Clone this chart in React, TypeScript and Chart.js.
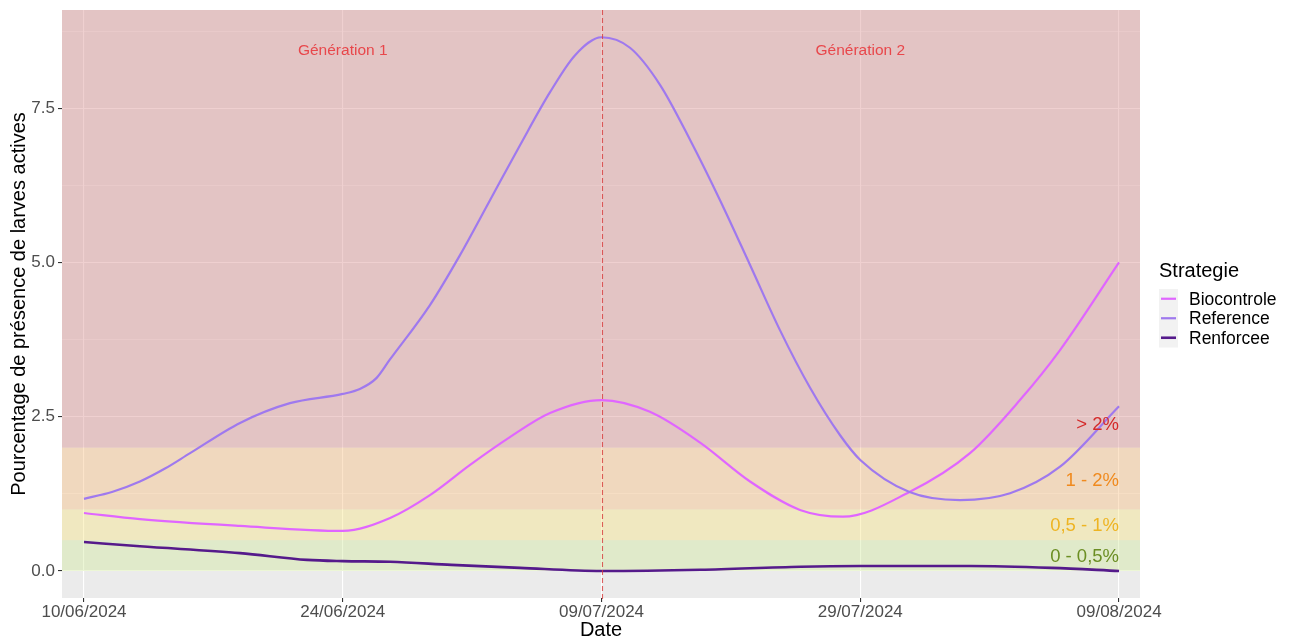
import React, { useEffect, useRef } from "react";
import { Chart, registerables } from "chart.js";

Chart.register(...registerables);

// ---------- data ----------
const xTickLabels = ["10/06/2024", "24/06/2024", "09/07/2024", "29/07/2024", "09/08/2024"];

const referenceX = [0, 0.108, 0.216, 0.313, 0.41, 0.603, 0.796, 1.0, 1.066, 1.131, 1.181, 1.337, 1.453, 1.569, 1.685, 1.801, 1.898, 2.0, 2.11, 2.226, 2.342, 2.458, 2.574, 2.69, 2.806, 2.922, 3.0, 3.19, 3.386, 3.579, 3.772, 4.0];
const referenceY = [1.17, 1.28, 1.45, 1.66, 1.91, 2.4, 2.72, 2.87, 2.95, 3.13, 3.42, 4.31, 5.12, 6.01, 6.9, 7.76, 8.36, 8.65, 8.48, 7.88, 6.99, 6.01, 4.96, 3.9, 2.97, 2.2, 1.8, 1.28, 1.15, 1.26, 1.69, 2.67];

const biocontroleX = [0, 0.216, 0.603, 1.0, 1.183, 1.337, 1.492, 1.646, 1.801, 2.0, 2.187, 2.381, 2.574, 2.767, 2.933, 3.19, 3.424, 3.617, 3.772, 4.0];
const biocontroleY = [0.94, 0.84, 0.73, 0.65, 0.86, 1.23, 1.72, 2.17, 2.56, 2.77, 2.58, 2.08, 1.45, 0.99, 0.88, 1.28, 1.91, 2.77, 3.58, 5.0];

const renforceeX = [0, 0.216, 0.603, 0.862, 1.0, 1.183, 1.42, 1.685, 2.0, 2.383, 2.77, 3.0, 3.424, 3.74, 4.0];
const renforceeY = [0.47, 0.4, 0.29, 0.18, 0.16, 0.15, 0.1, 0.05, 0.0, 0.02, 0.07, 0.08, 0.08, 0.05, 0.0];

const seriesNames = ["Biocontrole", "Reference", "Renforcee"];

const bandBounds = [0, 0.5, 1, 2];
const bandLabels = ["0 - 0,5%", "0,5 - 1%", "1 - 2%", "> 2%"];
const bandLabelY = [0.23, 0.73, 1.46, 2.37];

const generationLabels = ["Génération 1", "Génération 2"];
const generationX = [1, 3];
const generationY = 8.44;
const separatorX = 2;

// ---------- styles ----------
const FONT = "'Liberation Sans', Arial, sans-serif";
const seriesColors = ["#E066FF", "#9F79EE", "#551A8B"];
const seriesWidths = [2.2, 2.2, 2.6];
const bandFills = [
  "rgba(207,232,152,0.4)",
  "rgba(247,227,127,0.4)",
  "rgba(247,187,122,0.4)",
  "rgba(215,137,137,0.4)",
];
const bandLabelColors = ["#6B8E23", "#EEB422", "#F08A1E", "#D42A2A"];

const pts = (xs: number[], ys: number[]) => xs.map((x, i) => ({ x, y: ys[i] }));

const decorPlugin = {
  id: "decor",
  beforeDraw(chart: any) {
    const { ctx, chartArea: a } = chart;
    ctx.save();
    ctx.fillStyle = "#EBEBEB";
    ctx.fillRect(a.left, a.top, a.right - a.left, a.bottom - a.top);
    ctx.restore();
  },
  beforeDatasetsDraw(chart: any) {
    const { ctx, chartArea: a, scales } = chart;
    const ys = scales.y;
    ctx.save();
    for (let i = 0; i < bandBounds.length; i++) {
      const yb = ys.getPixelForValue(bandBounds[i]);
      const yt = i < bandBounds.length - 1 ? ys.getPixelForValue(bandBounds[i + 1]) : a.top;
      ctx.fillStyle = bandFills[i];
      ctx.fillRect(a.left, yt, a.right - a.left, yb - yt);
    }
    ctx.restore();
  },
  afterDatasetsDraw(chart: any) {
    const { ctx, chartArea: a, scales } = chart;
    const xs = scales.x;
    const ys = scales.y;
    ctx.save();
    // separator
    const sx = Math.round(xs.getPixelForValue(separatorX)) + 0.5;
    ctx.strokeStyle = "rgba(215,60,60,0.8)";
    ctx.lineWidth = 1.1;
    ctx.setLineDash([5, 3]);
    ctx.beginPath();
    ctx.moveTo(sx, a.top);
    ctx.lineTo(sx, a.bottom + 2);
    ctx.stroke();
    ctx.setLineDash([]);
    // generation labels
    ctx.font = `15.5px ${FONT}`;
    ctx.fillStyle = "#E8474B";
    ctx.textAlign = "center";
    ctx.textBaseline = "middle";
    generationLabels.forEach((t, i) => {
      ctx.fillText(t, xs.getPixelForValue(generationX[i]), ys.getPixelForValue(generationY));
    });
    // band labels
    ctx.font = `18.5px ${FONT}`;
    ctx.textAlign = "right";
    bandLabels.forEach((t, i) => {
      ctx.fillStyle = bandLabelColors[i];
      ctx.fillText(t, xs.getPixelForValue(4), ys.getPixelForValue(bandLabelY[i]));
    });
    ctx.restore();
  },
  afterDraw(chart: any) {
    const { ctx, chartArea: a } = chart;
    ctx.save();
    // x axis title
    ctx.fillStyle = "#000";
    ctx.font = `20px ${FONT}`;
    ctx.textAlign = "center";
    ctx.textBaseline = "middle";
    ctx.fillText("Date", (a.left + a.right) / 2, 630);
    // legend
    ctx.textAlign = "left";
    ctx.textBaseline = "alphabetic";
    ctx.fillText("Strategie", 1159, 277);
    const keyLeft = 1159;
    const keyTop = 289;
    const keyH = 19.5;
    ctx.fillStyle = "#F2F2F2";
    ctx.fillRect(keyLeft, keyTop, 19, keyH * 3);
    ctx.font = `17.5px ${FONT}`;
    ctx.textBaseline = "middle";
    seriesNames.forEach((name, i) => {
      const cy = keyTop + keyH * i + keyH / 2;
      ctx.strokeStyle = seriesColors[i];
      ctx.lineWidth = seriesWidths[i];
      ctx.beginPath();
      ctx.moveTo(keyLeft + 2, cy);
      ctx.lineTo(keyLeft + 17, cy);
      ctx.stroke();
      ctx.fillStyle = "#000";
      ctx.fillText(name, 1189, cy + 1);
    });
    ctx.restore();
  },
};

export default function App() {
  const ref = useRef<HTMLCanvasElement>(null);

  useEffect(() => {
    if (!ref.current) return;
    const datasets = [
      { label: seriesNames[0], data: pts(biocontroleX, biocontroleY) },
      { label: seriesNames[1], data: pts(referenceX, referenceY) },
      { label: seriesNames[2], data: pts(renforceeX, renforceeY) },
    ].map((d, i) => ({
      ...d,
      borderColor: seriesColors[i],
      backgroundColor: seriesColors[i],
      borderWidth: seriesWidths[i],
      pointRadius: 0,
      showLine: true,
      fill: false,
      tension: 0.4,
      cubicInterpolationMode: "monotone" as const,
      order: 2 - i,
    }));

    const chart = new Chart(ref.current, {
      type: "scatter",
      data: { datasets },
      plugins: [decorPlugin],
      options: {
        animation: false,
        responsive: false,
        layout: { padding: { top: 10, right: 151, left: 0, bottom: 0 } },
        plugins: {
          legend: { display: false },
          tooltip: { enabled: false },
        },
        scales: {
          x: {
            type: "linear",
            min: -0.085,
            max: 4.081,
            afterFit: (s: any) => {
              s.height = 43;
              s.paddingLeft = 0;
              s.paddingRight = 0;
            },
            ticks: {
              stepSize: 1,
              includeBounds: false,
              autoSkip: false,
              maxRotation: 0,
              padding: 0,
              color: "#4D4D4D",
              font: { size: 17, family: FONT },
              callback: (v: any) => (Number.isInteger(v) ? xTickLabels[v] ?? "" : ""),
            },
            grid: {
              color: "#FFFFFF",
              lineWidth: 1.1,
              tickLength: 4,
              tickColor: "#333333",
            },
            border: { display: false },
            title: { display: false },
          },
          y: {
            type: "linear",
            min: -0.4376,
            max: 9.092,
            afterFit: (s: any) => {
              s.width = 62;
              s.paddingTop = 0;
              s.paddingBottom = 0;
            },
            ticks: {
              stepSize: 1.25,
              includeBounds: false,
              autoSkip: false,
              padding: 3,
              color: "#4D4D4D",
              font: { size: 17, family: FONT },
              callback: (v: any) => (Math.abs(v % 2.5) < 1e-9 ? Number(v).toFixed(1) : ""),
            },
            grid: {
              color: "#FFFFFF",
              lineWidth: (c: any) => (c.tick && Math.abs(c.tick.value % 2.5) < 1e-9 ? 1.1 : 0.55),
              tickLength: 4,
              tickColor: (c: any) => (c.tick && Math.abs(c.tick.value % 2.5) < 1e-9 ? "#333333" : "rgba(0,0,0,0)"),
            },
            border: { display: false },
            title: {
              display: true,
              text: "Pourcentage de présence de larves actives",
              color: "#000",
              font: { size: 20, family: FONT },
              padding: { top: 7, bottom: 0 },
            },
          },
        },
      },
    });
    return () => chart.destroy();
  }, []);

  return (
    <div style={{ position: "absolute", left: 0, top: 0, width: 1291, height: 641, background: "#fff" }}>
      <canvas ref={ref} width={1291} height={641} />
    </div>
  );
}
